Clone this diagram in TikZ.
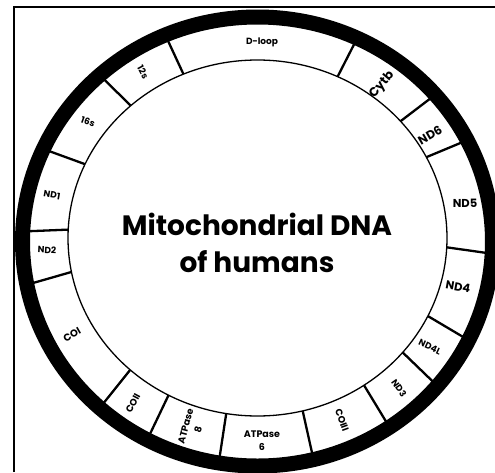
\documentclass[tikz,border=0pt]{standalone}
\usepackage{fontspec}
\setmainfont{Poppins}
\usepackage{tikz}
\usetikzlibrary{calc}

\begin{document}
\begin{tikzpicture}[x=1pt,y=1pt,
    gene/.style={font=\bfseries\fontsize{#1}{13}\selectfont, align=center, inner sep=0pt},
    divider/.style={line width=2.3pt}]
    \useasboundingbox (-257.5,-234) rectangle (237.5,238);
    % frame and genome ring
    \draw[line width=1.5pt] (-243.5,-234) -- (-243.5,231) -- (237.5,231);
    \draw[line width=15pt] (0,-3.5) ellipse [x radius=235, y radius=224.5];
    \foreach \a in {113,65,132,155.5,177.3,191,227.8,242,260.5,283.8,304.2,320,334,357,27,41} {
        \draw[divider] (\a:189.5 and 178) -- ($(0,-3.5)+(\a:229 and 218)$);
    }
    \draw[line width=1.3pt, fill=white] (0,0) ellipse [x radius=189.5, y radius=178];
    \foreach \x/\y/\r/\s/\t [count=\i] in {4.5/196/0/9/D-loop, 124.5/153/50/12.5/Cytb, 172.5/103/30/12/ND6,
        207.5/35/0/11.5/ND5, 200.5/-49/-10/11.5/ND4, 172.5/-109/-25/9/ND4L, 141.5/-150/-55/9/ND3,
        84.5/-182/-70/9.5/COIII, 4.5/-203/0/9.5/{ATPase\\6}, -65.5/-190/75/9.5/{ATPase\\8},
        -124.5/-165/62/9.5/COII, -185.5/-97/30/10/COI, -210.5/-12/-3/9/ND2, -205.5/43/-10/9/ND1,
        -169.5/116/-20/9/16s, -114.5/166/-62/9/12s} {
        \node[gene=\s, rotate=\r] (g\i) at (\x,\y) {\t};
    }
    \node[font=\bfseries\fontsize{28}{37}\selectfont, align=center] (title) at (-0.5,-5) {Mitochondrial DNA\\of humans};
\end{tikzpicture}
\end{document}
